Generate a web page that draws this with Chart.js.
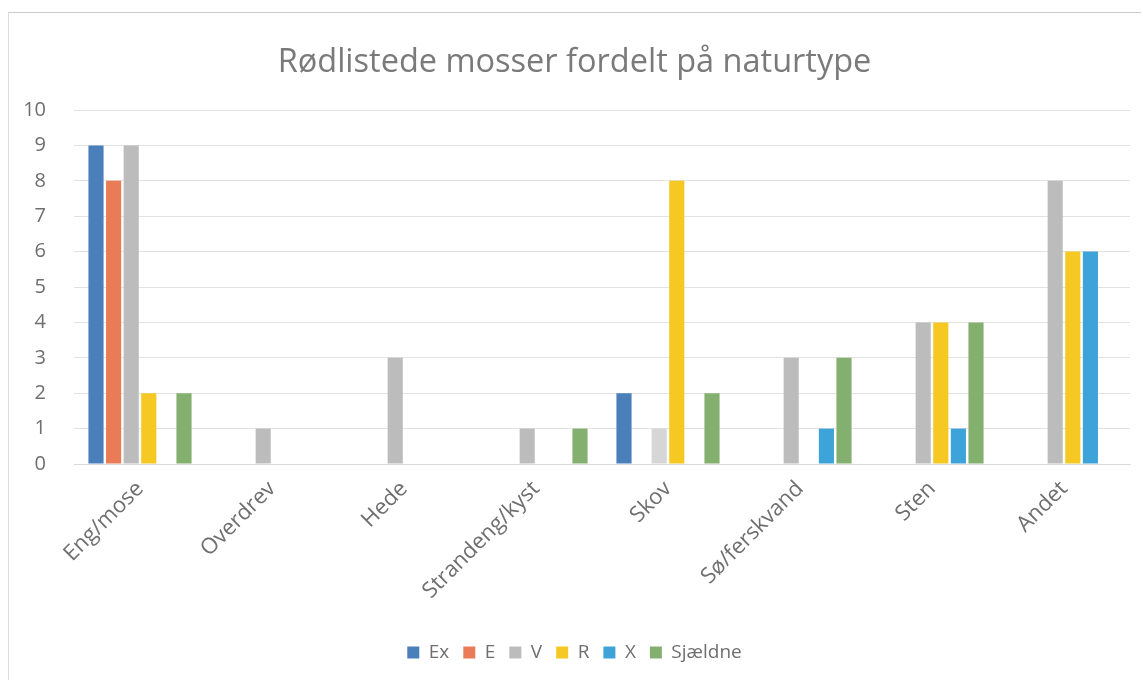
<!DOCTYPE html>
<html>
<head>
<meta charset="utf-8">
<script src="https://cdn.jsdelivr.net/npm/chart.js@4/dist/chart.umd.min.js"></script>
<style>
    html, body { margin: 0; padding: 0; background: #fff; }
    #frame {
        position: absolute;
        left: 8px; top: 12px;
        width: 1133px; height: 668px;
        border-left: 1px solid #ddd;
        border-top: 1px solid #ccc;
        box-sizing: border-box;
    }
    #wrap { position: absolute; left: 0; top: 0; width: 1143px; height: 684px; }
</style>
</head>
<body>
<div id="frame"></div>
<div id="wrap"><canvas id="chart"></canvas></div>
<script>
// Categories (natural types)
const categories = ['Eng/mose', 'Overdrev', 'Hede', 'Strandeng/kyst', 'Skov', 'Sø/ferskvand', 'Sten', 'Andet'];

// Series values
const exValues       = [9, 0, 0, 0, 2, 0, 0, 0];
const eValues        = [8, 0, 0, 0, 0, 0, 0, 0];
const vValues        = [9, 1, 3, 1, 1, 3, 4, 8];
const rValues        = [2, 0, 0, 0, 8, 0, 4, 6];
const xValues        = [0, 0, 0, 0, 0, 1, 1, 6];
const sjaeldneValues = [2, 0, 0, 1, 2, 3, 4, 0];

const yTicks = [0, 1, 2, 3, 4, 5, 6, 7, 8, 9, 10];

const FONT = "'Open Sans', sans-serif";
const TEXT = '#6f6f6f';

// gray bar in Skov looks lighter in the scan
const vColors = vValues.map((v, i) => i === 4 ? '#d6d6d6' : '#bcbcbc');

const ctx = document.getElementById('chart').getContext('2d');

new Chart(ctx, {
    type: 'bar',
    data: {
        labels: categories,
        datasets: [
            { label: 'Ex', data: exValues, backgroundColor: '#4a7fbb' },
            { label: 'E', data: eValues, backgroundColor: '#e97c57' },
            { label: 'V', data: vValues, backgroundColor: vColors },
            { label: 'R', data: rValues, backgroundColor: '#f5c824' },
            { label: 'X', data: xValues, backgroundColor: '#3ea3d9' },
            { label: 'Sjældne', data: sjaeldneValues, backgroundColor: '#84b06f' }
        ]
    },
    options: {
        responsive: true,
        maintainAspectRatio: false,
        animation: false,
        layout: {
            padding: { left: 19, right: 13, top: 18, bottom: 12 }
        },
        datasets: {
            bar: { categoryPercentage: 0.8, barPercentage: 0.86 }
        },
        plugins: {
            title: {
                display: true,
                text: 'Rødlistede mosser fordelt på naturtype',
                color: '#7a7a7a',
                font: { family: FONT, size: 32.5, weight: 'normal' },
                padding: { top: 25, bottom: 28 }
            },
            legend: {
                display: true,
                position: 'bottom',
                labels: {
                    color: TEXT,
                    font: { family: FONT, size: 19 },
                    boxWidth: 12,
                    boxHeight: 12,
                    padding: 14
                }
            },
            tooltip: { enabled: false }
        },
        scales: {
            y: {
                min: 0,
                max: 10,
                afterBuildTicks: (axis) => {
                    axis.ticks = yTicks.map(v => ({ value: v }));
                },
                afterFit: (axis) => { axis.width = 55; },
                ticks: {
                    color: TEXT,
                    font: { family: FONT, size: 20 },
                    padding: 28
                },
                grid: { color: '#e2e2e2', drawTicks: false },
                border: { display: false }
            },
            x: {
                afterFit: (axis) => { axis.height = 165; },
                ticks: {
                    color: TEXT,
                    font: { family: FONT, size: 22 },
                    minRotation: 45,
                    maxRotation: 45,
                    padding: 4
                },
                grid: { display: false },
                border: { color: '#d9d9d9' }
            }
        }
    }
});
</script>
</body>
</html>
